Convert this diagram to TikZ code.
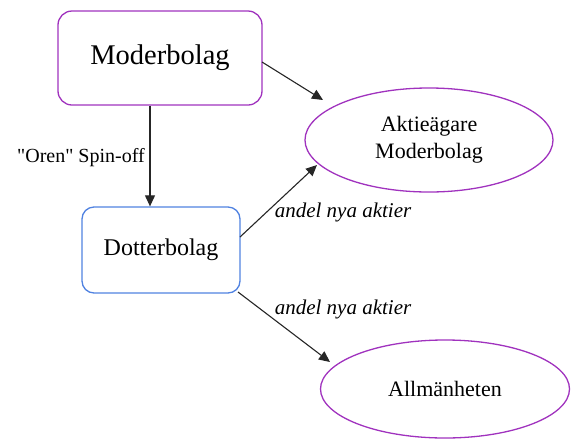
\documentclass[tikz,border=0pt]{standalone}
\usepackage{fontspec}
\setmainfont{Liberation Serif}
\usetikzlibrary{arrows.meta,shapes.geometric}
\definecolor{boxpurple}{RGB}{160,50,190}
\definecolor{boxblue}{RGB}{80,130,225}
\tikzset{
  x=1pt, y=-1pt,
  roundbox/.style={draw, rounded corners=14pt, line width=1.3pt, inner sep=0pt},
  ovalbox/.style={draw=boxpurple, ellipse, line width=1.3pt, inner sep=0pt, align=center},
  conn/.style={line width=1.1pt, draw=black!85, -{Triangle[length=11pt,width=10pt]}},
  lbl/.style={font=\fontsize{21}{25}\selectfont\itshape, inner sep=0pt}
}
\begin{document}
\begin{tikzpicture}
\useasboundingbox (0,0) rectangle (573,440);
\node[roundbox, draw=boxpurple, minimum width=204pt, minimum height=94pt,
      font=\fontsize{28.5}{32}\selectfont] (moder) at (160,58) {Moderbolag};
\node[roundbox, draw=boxblue, rounded corners=12pt, minimum width=158pt, minimum height=86pt,
      font=\fontsize{24}{28}\selectfont] (dotter) at (161,250) {Dotterbolag};
\node[ovalbox, minimum width=248pt, minimum height=104pt,
      font=\fontsize{22}{27}\selectfont] (aktie) at (429,140) {Aktieägare\\Moderbolag};
\node[ovalbox, minimum width=249pt, minimum height=98pt,
      font=\fontsize{22}{27}\selectfont] (allm) at (445,389) {Allmänheten};
\coordinate (m1) at (262,62);
\coordinate (d1) at (240,237);
\coordinate (d2) at (238,292);
\coordinate (t1) at (323,100);
\coordinate (t2) at (317,165);
\coordinate (t3) at (330,362);
\draw[conn] (moder.south -| 150,0) -- (dotter.north -| 150,0);
\draw[conn] (m1) -- (t1);
\draw[conn] (d1) -- (t2);
\draw[conn] (d2) -- (t3);
\node[font=\fontsize{20}{24}\selectfont, inner sep=0pt] (spin) at (81,158) {\textquotedbl Oren\textquotedbl{} Spin-off};
\node[lbl] (a1) at (343,212) {andel nya aktier};
\node[lbl] (a2) at (343,309) {andel nya aktier};
\end{tikzpicture}
\end{document}
